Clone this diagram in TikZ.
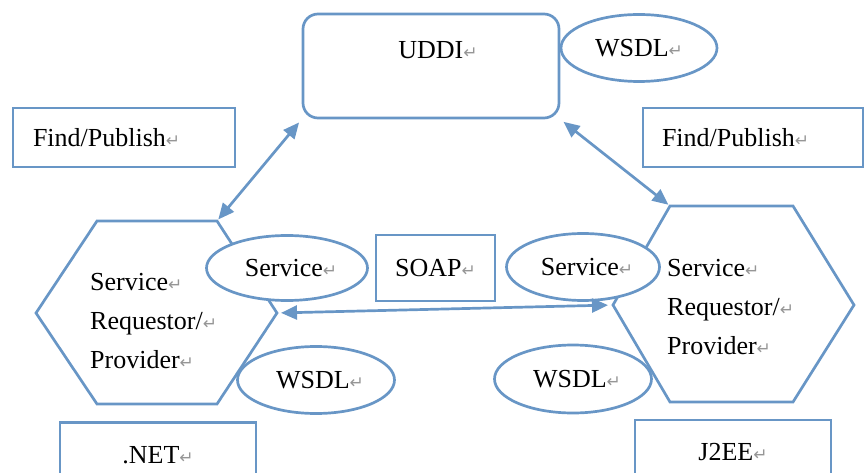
\documentclass[tikz,border=0pt]{standalone}
\usepackage{fontspec}
\setmainfont{Liberation Serif}
\newfontfamily\markfont{DejaVu Sans}
\usetikzlibrary{positioning,shapes,arrows.meta}
\definecolor{wordblue}{RGB}{104,150,198}
\definecolor{markgray}{RGB}{150,150,150}
\newcommand{\retmark}{{\color{markgray}\markfont\fontsize{17}{17}\selectfont ↵}}
\tikzset{
  box/.style = {draw = wordblue, line width = 2.7pt, inner sep = 0pt},
  oval/.style = {ellipse, draw = wordblue, line width = 2.7pt, inner sep = 0pt},
  hexline/.style = {draw = wordblue, line width = 2.7pt, line join = miter},
  link/.style = {draw = wordblue, line width = 2.7pt,
    {Triangle[length = 16pt, width = 14pt]}-{Triangle[length = 16pt, width = 14pt]}}
}

\begin{document}
\begin{tikzpicture}[x = 1pt, y = -1pt, font = \fontsize{26}{39}\selectfont]
\useasboundingbox (0,0) rectangle (865,473);
\clip (0,0) rectangle (865,473);
% registry
\node[box, rounded corners = 15pt, minimum width = 256pt, minimum height = 104pt] (uddi) at (431,66) {};
\node[anchor = base] (uddiText) at (438,59) {UDDI\retmark};
\node[oval, minimum width = 156pt, minimum height = 67pt] (wsdlTop) at (639,48) {WSDL\retmark};
\node[box, minimum width = 222pt, minimum height = 59pt, text width = 182pt, align = left] (findL) at (124,137.5) {Find/Publish\retmark};
\node[box, minimum width = 220pt, minimum height = 59pt, text width = 182pt, align = left] (findR) at (753,137.5) {Find/Publish\retmark};
% left peer
\draw[hexline] (36,313) coordinate (hexL-w) -- (97,221) coordinate (hexL-nw) -- (217,221) coordinate (hexL-ne)
  -- (277,313) coordinate (hexL-e) -- (217,404) coordinate (hexL-se) -- (97,404) coordinate (hexL-sw) -- cycle;
\node[anchor = west, align = left, inner sep = 0pt] (hexLText) at (90,321) {Service\retmark\\Requestor/\retmark\\Provider\retmark};
\node[oval, fill = white, minimum width = 161pt, minimum height = 65pt] (serviceL) at (287,268) {\hspace{8pt}Service\retmark};
\node[oval, fill = white, minimum width = 157pt, minimum height = 67pt] (wsdlL) at (316,380) {\hspace{8pt}WSDL\retmark};
\node[box, minimum width = 196pt, text height = 41pt, text depth = 40pt] (dotnet) at (158,463) {.NET\retmark};
% right peer
\draw[hexline] (613,305) coordinate (hexR-w) -- (670,206) coordinate (hexR-nw) -- (793,206) coordinate (hexR-ne)
  -- (854,305) coordinate (hexR-e) -- (793,402) coordinate (hexR-se) -- (670,402) coordinate (hexR-sw) -- cycle;
\node[anchor = west, align = left, inner sep = 0pt] (hexRText) at (667,307) {Service\retmark\\Requestor/\retmark\\Provider\retmark};
\node[oval, fill = white, minimum width = 153pt, minimum height = 67pt] (serviceR) at (583,267) {\hspace{8pt}Service\retmark};
\node[oval, fill = white, minimum width = 157pt, minimum height = 68pt] (wsdlR) at (573,379) {\hspace{8pt}WSDL\retmark};
\node[box, minimum width = 196pt, text height = 40pt, text depth = 40pt] (jee) at (733,460) {J2EE\retmark};
% messaging
\node[box, minimum width = 119pt, minimum height = 66pt] (soap) at (435.5,268) {SOAP\retmark};
\draw[link, shorten < = 4pt, shorten > = 2pt] (uddi.south west) -- (hexL-ne);
\draw[link, shorten < = 4pt, shorten > = 2pt] (uddi.south east) -- (hexR-nw);
\draw[link, shorten < = 4pt, shorten > = 5pt] (hexL-e) -- (hexR-w);
\end{tikzpicture}
\end{document}
